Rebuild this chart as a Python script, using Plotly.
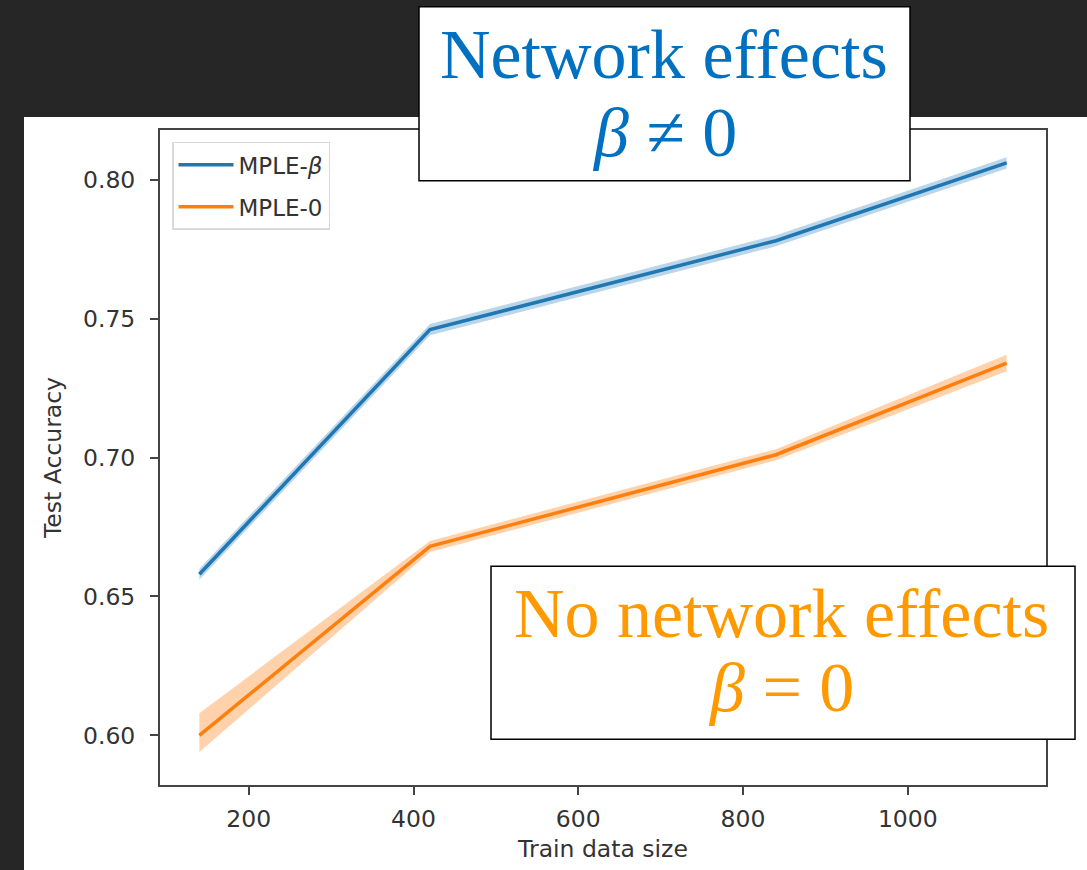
import plotly.graph_objects as go

# ---- data ----
train_size = [140, 420, 840, 1120]
mple_beta = [0.658, 0.746, 0.778, 0.806]
mple_beta_lo = [0.656, 0.744, 0.776, 0.804]
mple_beta_hi = [0.660, 0.748, 0.780, 0.808]
mple_0 = [0.600, 0.668, 0.701, 0.734]
mple_0_lo = [0.594, 0.666, 0.699, 0.731]
mple_0_hi = [0.608, 0.670, 0.703, 0.737]

x_ticks = [200, 400, 600, 800, 1000]
y_ticks = [0.60, 0.65, 0.70, 0.75, 0.80]
y_tick_labels = ["0.60", "0.65", "0.70", "0.75", "0.80"]

BLUE = "#1f77b4"
ORANGE = "#ff7f0e"
W, H = 1087, 870
L, R, T, B = 159, 1047, 129, 790


def px(xp):
    return (xp - L) / (R - L)


def py(yp):
    return (B - yp) / (B - T)


fig = go.Figure()

for lo, hi, col in [(mple_beta_lo, mple_beta_hi, "rgba(31,119,180,0.3)"),
                    (mple_0_lo, mple_0_hi, "rgba(255,127,14,0.35)")]:
    fig.add_trace(go.Scatter(
        x=train_size + train_size[::-1], y=hi + lo[::-1],
        fill="toself", fillcolor=col, line=dict(width=0),
        mode="lines", showlegend=False, hoverinfo="skip"))

fig.add_trace(go.Scatter(x=train_size, y=mple_beta, mode="lines", name="MPLE-<i>β</i>",
                         line=dict(color=BLUE, width=3.5), legendgroup="a"))
fig.add_trace(go.Scatter(x=train_size, y=mple_0, mode="lines", name="MPLE-0",
                         line=dict(color=ORANGE, width=3.5), legendgroup="b"))

axis_font = dict(family="DejaVu Sans", size=23.5, color="#333333")

fig.update_xaxes(range=[91, 1169], tickvals=x_ticks, ticks="outside", ticklen=8,
                 tickwidth=1.5, tickcolor="#444", showgrid=False, zeroline=False,
                 showline=False, tickfont=axis_font, ticklabelstandoff=4,
                 title=dict(text="Train data size", font=axis_font, standoff=8))
fig.update_yaxes(range=[0.5818, 0.8182], tickvals=y_ticks, ticktext=y_tick_labels,
                 ticks="outside", ticklen=8, tickwidth=1.5, tickcolor="#444",
                 showgrid=False, zeroline=False, showline=False, tickfont=axis_font,
                 ticklabelstandoff=10,
                 title=dict(text="Test Accuracy", font=axis_font, standoff=14))

shapes = [
    # white page area behind the chart
    dict(type="rect", xref="paper", yref="paper", x0=px(24), x1=px(1100),
         y0=py(880), y1=py(117), fillcolor="white", line=dict(width=0), layer="below"),
    # plot frame
    dict(type="rect", xref="paper", yref="paper", x0=0, x1=1, y0=0, y1=1,
         line=dict(color="#444444", width=2), layer="above"),
    # text boxes
    dict(type="rect", xref="paper", yref="paper", x0=px(419), x1=px(910),
         y0=py(181), y1=py(6), fillcolor="white", line=dict(color="black", width=1.5),
         layer="above"),
    dict(type="rect", xref="paper", yref="paper", x0=px(491), x1=px(1075),
         y0=py(743), y1=py(569), fillcolor="white", line=dict(color="black", width=1.5),
         layer="above"),
]

serif = "Liberation Serif"
ann = []
for text, cx, cy, col in [
    ("Network effects", 664, 54, "#0070C0"),
    ("<i>β</i> ≠ 0", 664, 133, "#0070C0"),
    ("No network effects", 781, 616, "#FF9900"),
    ("<i>β</i> = 0", 781, 691, "#FF9900"),
]:
    ann.append(dict(text=text, xref="paper", yref="paper", x=px(cx), y=py(cy),
                    xanchor="center", yanchor="middle", showarrow=False,
                    font=dict(family=serif, size=70, color=col)))

fig.update_layout(
    width=W, height=H,
    margin=dict(l=L, r=W - R, t=T, b=H - B),
    paper_bgcolor="#262626", plot_bgcolor="white",
    shapes=shapes, annotations=ann,
    legend=dict(x=px(172), y=py(142), xanchor="left", yanchor="top",
                bgcolor="white", bordercolor="#d9d9d9", borderwidth=1.5,
                font=dict(family="DejaVu Sans", size=23, color="#333333"),
                traceorder="grouped", tracegroupgap=9, itemwidth=55,
                entrywidth=170),
    showlegend=True,
)

fig.write_html("out.html", config={"displayModeBar": False},
               post_script="document.body.style.margin='0';")
